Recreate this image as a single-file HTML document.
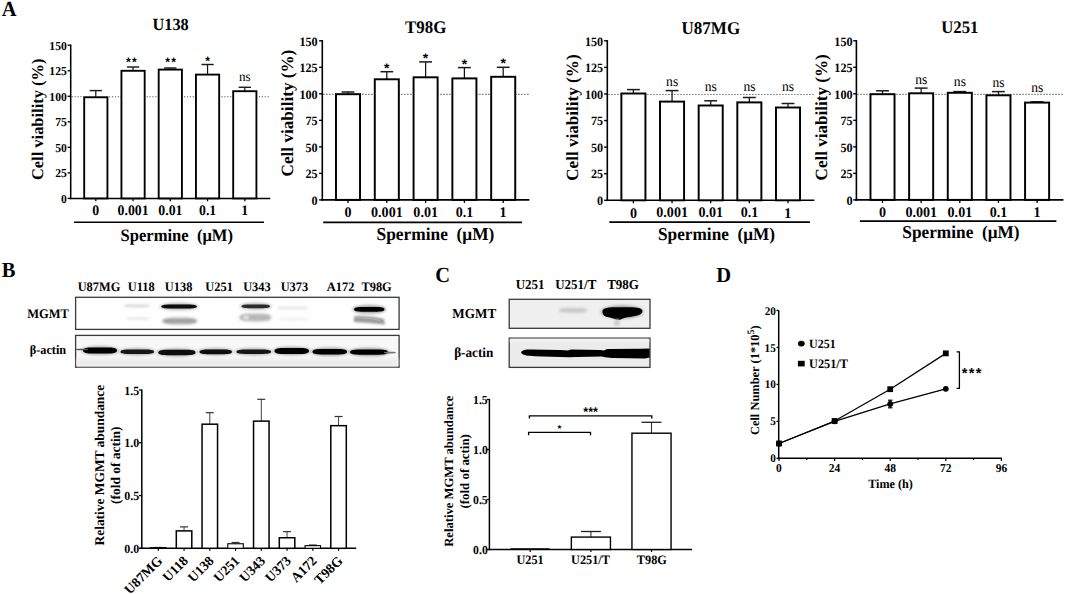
<!DOCTYPE html><html><head><meta charset="utf-8"><style>html,body{margin:0;padding:0;background:#fff;overflow:hidden}svg{display:block}text{font-family:"Liberation Serif",serif;font-weight:bold;fill:#000;white-space:pre;text-rendering:geometricPrecision}</style></head><body>
<svg width="1065" height="594" viewBox="0 0 1065 594">
<defs><filter id="b1" x="-20%" y="-100%" width="140%" height="300%"><feGaussianBlur stdDeviation="0.7"/></filter><filter id="b2" x="-20%" y="-100%" width="140%" height="300%"><feGaussianBlur stdDeviation="1.1"/></filter><filter id="b3" x="-30%" y="-150%" width="160%" height="400%"><feGaussianBlur stdDeviation="1.6"/></filter></defs>
<rect width="1065" height="594" fill="#fff"/>
<line x1="71.70" y1="96.77" x2="270.00" y2="96.77" stroke="#555" stroke-width="1.056" stroke-dasharray="1.15 1.73"/>
<line x1="70.70" y1="44.50" x2="70.70" y2="199.20" stroke="#000" stroke-width="1.536" />
<line x1="67.63" y1="198.40" x2="70.70" y2="198.40" stroke="#000" stroke-width="1.3439999999999999" />
<text x="0" y="0" transform="translate(61.02,202.98) scale(1,1.05)" font-size="11.65" >0</text>
<line x1="67.63" y1="172.87" x2="70.70" y2="172.87" stroke="#000" stroke-width="1.3439999999999999" />
<text x="0" y="0" transform="translate(55.17,177.45) scale(1,1.05)" font-size="11.65" >25</text>
<line x1="67.63" y1="147.33" x2="70.70" y2="147.33" stroke="#000" stroke-width="1.3439999999999999" />
<text x="0" y="0" transform="translate(55.19,151.92) scale(1,1.05)" font-size="11.65" >50</text>
<line x1="67.63" y1="121.80" x2="70.70" y2="121.80" stroke="#000" stroke-width="1.3439999999999999" />
<text x="0" y="0" transform="translate(55.17,126.38) scale(1,1.05)" font-size="11.65" >75</text>
<line x1="67.63" y1="96.27" x2="70.70" y2="96.27" stroke="#000" stroke-width="1.3439999999999999" />
<text x="0" y="0" transform="translate(49.37,100.85) scale(1,1.05)" font-size="11.65" >100</text>
<line x1="67.63" y1="70.73" x2="70.70" y2="70.73" stroke="#000" stroke-width="1.3439999999999999" />
<text x="0" y="0" transform="translate(49.34,75.32) scale(1,1.05)" font-size="11.65" >125</text>
<line x1="67.63" y1="45.20" x2="70.70" y2="45.20" stroke="#000" stroke-width="1.3439999999999999" />
<text x="0" y="0" transform="translate(49.37,49.78) scale(1,1.05)" font-size="11.65" >150</text>
<line x1="69.80" y1="198.40" x2="270.30" y2="198.40" stroke="#000" stroke-width="1.536" />
<line x1="95.80" y1="97.30" x2="95.80" y2="90.60" stroke="#111" stroke-width="1.2" />
<line x1="89.66" y1="90.60" x2="101.94" y2="90.60" stroke="#1a1a1a" stroke-width="1.44" />
<rect x="84.19" y="97.30" width="23.23" height="101.10" fill="#fff" stroke="#000" stroke-width="1.8719999999999999" />
<line x1="95.80" y1="198.40" x2="95.80" y2="201.28" stroke="#000" stroke-width="1.248" />
<line x1="133.05" y1="70.80" x2="133.05" y2="67.00" stroke="#111" stroke-width="1.2" />
<line x1="126.91" y1="67.00" x2="139.19" y2="67.00" stroke="#1a1a1a" stroke-width="1.44" />
<rect x="121.44" y="70.80" width="23.23" height="127.60" fill="#fff" stroke="#000" stroke-width="1.8719999999999999" />
<line x1="133.05" y1="198.40" x2="133.05" y2="201.28" stroke="#000" stroke-width="1.248" />
<text x="125.92" y="65.73" font-size="12.20" style="font-family:'Liberation Sans',sans-serif">*</text>
<text x="132.12" y="65.73" font-size="12.20" style="font-family:'Liberation Sans',sans-serif">*</text>
<line x1="170.30" y1="69.60" x2="170.30" y2="68.00" stroke="#111" stroke-width="1.2" />
<line x1="164.16" y1="68.00" x2="176.44" y2="68.00" stroke="#1a1a1a" stroke-width="1.44" />
<rect x="158.69" y="69.60" width="23.23" height="128.80" fill="#fff" stroke="#000" stroke-width="1.8719999999999999" />
<line x1="170.30" y1="198.40" x2="170.30" y2="201.28" stroke="#000" stroke-width="1.248" />
<text x="165.17" y="65.73" font-size="12.20" style="font-family:'Liberation Sans',sans-serif">*</text>
<text x="171.37" y="65.73" font-size="12.20" style="font-family:'Liberation Sans',sans-serif">*</text>
<line x1="207.55" y1="74.60" x2="207.55" y2="64.50" stroke="#111" stroke-width="1.2" />
<line x1="201.41" y1="64.50" x2="213.69" y2="64.50" stroke="#1a1a1a" stroke-width="1.44" />
<rect x="195.94" y="74.60" width="23.23" height="123.80" fill="#fff" stroke="#000" stroke-width="1.8719999999999999" />
<line x1="207.55" y1="198.40" x2="207.55" y2="201.28" stroke="#000" stroke-width="1.248" />
<text x="205.17" y="64.63" font-size="12.20" style="font-family:'Liberation Sans',sans-serif">*</text>
<line x1="244.80" y1="91.20" x2="244.80" y2="87.30" stroke="#111" stroke-width="1.2" />
<line x1="238.66" y1="87.30" x2="250.94" y2="87.30" stroke="#1a1a1a" stroke-width="1.44" />
<rect x="233.19" y="91.20" width="23.23" height="107.20" fill="#fff" stroke="#000" stroke-width="1.8719999999999999" />
<line x1="244.80" y1="198.40" x2="244.80" y2="201.28" stroke="#000" stroke-width="1.248" />
<text x="0" y="0" transform="translate(239.06,80.86) scale(1,1.05)" font-size="13.10" style="font-weight:normal" >ns</text>
<text x="0" y="0" transform="translate(92.34,215.05) scale(1,1.05)" font-size="13.84" >0</text>
<text x="0" y="0" transform="translate(117.58,215.00) scale(1,1.05)" font-size="13.84" >0.001</text>
<text x="0" y="0" transform="translate(158.29,215.00) scale(1,1.05)" font-size="13.84" >0.01</text>
<text x="0" y="0" transform="translate(199.00,215.00) scale(1,1.05)" font-size="13.84" >0.1</text>
<text x="0" y="0" transform="translate(241.15,215.20) scale(1,1.05)" font-size="13.84" >1</text>
<line x1="74.00" y1="222.30" x2="264.00" y2="222.30" stroke="#000" stroke-width="1.632" />
<text x="0" y="0" transform="translate(120.50,240.99) scale(1,1.05)" font-size="16.59" >Spermine  (μM)</text>
<text x="0" y="0" transform="translate(152.51,30.11) scale(1,1.05)" font-size="16.31" >U138</text>
<text x="0" y="0" font-size="16.47" transform="translate(42.53,180.09) rotate(-90)">Cell viability (%)</text>
<line x1="323.30" y1="94.33" x2="529.00" y2="94.33" stroke="#555" stroke-width="1.1" stroke-dasharray="1.20 1.80"/>
<line x1="322.30" y1="40.10" x2="322.30" y2="200.70" stroke="#000" stroke-width="1.6" />
<line x1="319.10" y1="199.90" x2="322.30" y2="199.90" stroke="#000" stroke-width="1.4" />
<text x="0" y="0" transform="translate(311.59,204.67) scale(1,1.05)" font-size="12.15" >0</text>
<line x1="319.10" y1="173.38" x2="322.30" y2="173.38" stroke="#000" stroke-width="1.4" />
<text x="0" y="0" transform="translate(305.49,178.16) scale(1,1.05)" font-size="12.15" >25</text>
<line x1="319.10" y1="146.87" x2="322.30" y2="146.87" stroke="#000" stroke-width="1.4" />
<text x="0" y="0" transform="translate(305.51,151.64) scale(1,1.05)" font-size="12.15" >50</text>
<line x1="319.10" y1="120.35" x2="322.30" y2="120.35" stroke="#000" stroke-width="1.4" />
<text x="0" y="0" transform="translate(305.49,125.12) scale(1,1.05)" font-size="12.15" >75</text>
<line x1="319.10" y1="93.83" x2="322.30" y2="93.83" stroke="#000" stroke-width="1.4" />
<text x="0" y="0" transform="translate(299.44,98.61) scale(1,1.05)" font-size="12.15" >100</text>
<line x1="319.10" y1="67.32" x2="322.30" y2="67.32" stroke="#000" stroke-width="1.4" />
<text x="0" y="0" transform="translate(299.41,72.09) scale(1,1.05)" font-size="12.15" >125</text>
<line x1="319.10" y1="40.80" x2="322.30" y2="40.80" stroke="#000" stroke-width="1.4" />
<text x="0" y="0" transform="translate(299.44,45.57) scale(1,1.05)" font-size="12.15" >150</text>
<line x1="321.50" y1="199.90" x2="529.40" y2="199.90" stroke="#000" stroke-width="1.6" />
<line x1="348.00" y1="94.20" x2="348.00" y2="92.00" stroke="#111" stroke-width="1.25" />
<line x1="341.60" y1="92.00" x2="354.40" y2="92.00" stroke="#1a1a1a" stroke-width="1.5" />
<rect x="335.98" y="94.20" width="24.05" height="105.70" fill="#fff" stroke="#000" stroke-width="1.95" />
<line x1="348.00" y1="199.90" x2="348.00" y2="202.90" stroke="#000" stroke-width="1.3" />
<line x1="386.80" y1="79.30" x2="386.80" y2="71.70" stroke="#111" stroke-width="1.25" />
<line x1="380.40" y1="71.70" x2="393.20" y2="71.70" stroke="#1a1a1a" stroke-width="1.5" />
<rect x="374.78" y="79.30" width="24.05" height="120.60" fill="#fff" stroke="#000" stroke-width="1.95" />
<line x1="386.80" y1="199.90" x2="386.80" y2="202.90" stroke="#000" stroke-width="1.3" />
<text x="384.07" y="72.73" font-size="14.00" style="font-family:'Liberation Sans',sans-serif">*</text>
<line x1="425.60" y1="77.30" x2="425.60" y2="61.90" stroke="#111" stroke-width="1.25" />
<line x1="419.20" y1="61.90" x2="432.00" y2="61.90" stroke="#1a1a1a" stroke-width="1.5" />
<rect x="413.58" y="77.30" width="24.05" height="122.60" fill="#fff" stroke="#000" stroke-width="1.95" />
<line x1="425.60" y1="199.90" x2="425.60" y2="202.90" stroke="#000" stroke-width="1.3" />
<text x="422.87" y="63.43" font-size="14.00" style="font-family:'Liberation Sans',sans-serif">*</text>
<line x1="464.40" y1="78.40" x2="464.40" y2="67.60" stroke="#111" stroke-width="1.25" />
<line x1="458.00" y1="67.60" x2="470.80" y2="67.60" stroke="#1a1a1a" stroke-width="1.5" />
<rect x="452.38" y="78.40" width="24.05" height="121.50" fill="#fff" stroke="#000" stroke-width="1.95" />
<line x1="464.40" y1="199.90" x2="464.40" y2="202.90" stroke="#000" stroke-width="1.3" />
<text x="461.67" y="68.94" font-size="14.00" style="font-family:'Liberation Sans',sans-serif">*</text>
<line x1="503.20" y1="76.80" x2="503.20" y2="67.30" stroke="#111" stroke-width="1.25" />
<line x1="496.80" y1="67.30" x2="509.60" y2="67.30" stroke="#1a1a1a" stroke-width="1.5" />
<rect x="491.18" y="76.80" width="24.05" height="123.10" fill="#fff" stroke="#000" stroke-width="1.95" />
<line x1="503.20" y1="199.90" x2="503.20" y2="202.90" stroke="#000" stroke-width="1.3" />
<text x="500.47" y="68.03" font-size="14.00" style="font-family:'Liberation Sans',sans-serif">*</text>
<text x="0" y="0" transform="translate(344.48,217.15) scale(1,1.05)" font-size="14.10" >0</text>
<text x="0" y="0" transform="translate(371.04,217.09) scale(1,1.05)" font-size="14.10" >0.001</text>
<text x="0" y="0" transform="translate(413.36,217.09) scale(1,1.05)" font-size="14.10" >0.01</text>
<text x="0" y="0" transform="translate(455.69,217.09) scale(1,1.05)" font-size="14.10" >0.1</text>
<text x="0" y="0" transform="translate(499.48,217.30) scale(1,1.05)" font-size="14.10" >1</text>
<line x1="323.20" y1="222.40" x2="522.00" y2="222.40" stroke="#000" stroke-width="1.7" />
<text x="0" y="0" transform="translate(376.56,239.85) scale(1,1.05)" font-size="17.35" >Spermine  (μM)</text>
<text x="0" y="0" transform="translate(405.03,33.32) scale(1,1.05)" font-size="16.90" >T98G</text>
<text x="0" y="0" font-size="17.16" transform="translate(292.81,176.42) rotate(-90)">Cell viability (%)</text>
<line x1="608.30" y1="94.47" x2="814.00" y2="94.47" stroke="#555" stroke-width="1.1" stroke-dasharray="1.20 1.80"/>
<line x1="607.30" y1="40.10" x2="607.30" y2="201.10" stroke="#000" stroke-width="1.6" />
<line x1="604.10" y1="200.30" x2="607.30" y2="200.30" stroke="#000" stroke-width="1.4" />
<text x="0" y="0" transform="translate(597.09,205.07) scale(1,1.05)" font-size="12.15" >0</text>
<line x1="604.10" y1="173.72" x2="607.30" y2="173.72" stroke="#000" stroke-width="1.4" />
<text x="0" y="0" transform="translate(590.99,178.49) scale(1,1.05)" font-size="12.15" >25</text>
<line x1="604.10" y1="147.13" x2="607.30" y2="147.13" stroke="#000" stroke-width="1.4" />
<text x="0" y="0" transform="translate(591.01,151.91) scale(1,1.05)" font-size="12.15" >50</text>
<line x1="604.10" y1="120.55" x2="607.30" y2="120.55" stroke="#000" stroke-width="1.4" />
<text x="0" y="0" transform="translate(590.99,125.32) scale(1,1.05)" font-size="12.15" >75</text>
<line x1="604.10" y1="93.97" x2="607.30" y2="93.97" stroke="#000" stroke-width="1.4" />
<text x="0" y="0" transform="translate(584.94,98.74) scale(1,1.05)" font-size="12.15" >100</text>
<line x1="604.10" y1="67.38" x2="607.30" y2="67.38" stroke="#000" stroke-width="1.4" />
<text x="0" y="0" transform="translate(584.91,72.16) scale(1,1.05)" font-size="12.15" >125</text>
<line x1="604.10" y1="40.80" x2="607.30" y2="40.80" stroke="#000" stroke-width="1.4" />
<text x="0" y="0" transform="translate(584.94,45.57) scale(1,1.05)" font-size="12.15" >150</text>
<line x1="606.60" y1="200.30" x2="814.40" y2="200.30" stroke="#000" stroke-width="1.6" />
<line x1="633.40" y1="93.50" x2="633.40" y2="89.60" stroke="#111" stroke-width="1.25" />
<line x1="627.00" y1="89.60" x2="639.80" y2="89.60" stroke="#1a1a1a" stroke-width="1.5" />
<rect x="621.38" y="93.50" width="24.05" height="106.80" fill="#fff" stroke="#000" stroke-width="1.95" />
<line x1="633.40" y1="200.30" x2="633.40" y2="203.30" stroke="#000" stroke-width="1.3" />
<line x1="672.05" y1="101.60" x2="672.05" y2="90.60" stroke="#111" stroke-width="1.25" />
<line x1="665.65" y1="90.60" x2="678.45" y2="90.60" stroke="#1a1a1a" stroke-width="1.5" />
<rect x="660.02" y="101.60" width="24.05" height="98.70" fill="#fff" stroke="#000" stroke-width="1.95" />
<line x1="672.05" y1="200.30" x2="672.05" y2="203.30" stroke="#000" stroke-width="1.3" />
<text x="0" y="0" transform="translate(666.09,85.86) scale(1,1.05)" font-size="13.60" style="font-weight:normal" >ns</text>
<line x1="710.70" y1="105.50" x2="710.70" y2="100.80" stroke="#111" stroke-width="1.25" />
<line x1="704.30" y1="100.80" x2="717.10" y2="100.80" stroke="#1a1a1a" stroke-width="1.5" />
<rect x="698.67" y="105.50" width="24.05" height="94.80" fill="#fff" stroke="#000" stroke-width="1.95" />
<line x1="710.70" y1="200.30" x2="710.70" y2="203.30" stroke="#000" stroke-width="1.3" />
<text x="0" y="0" transform="translate(704.74,91.36) scale(1,1.05)" font-size="13.60" style="font-weight:normal" >ns</text>
<line x1="749.35" y1="102.40" x2="749.35" y2="97.50" stroke="#111" stroke-width="1.25" />
<line x1="742.95" y1="97.50" x2="755.75" y2="97.50" stroke="#1a1a1a" stroke-width="1.5" />
<rect x="737.32" y="102.40" width="24.05" height="97.90" fill="#fff" stroke="#000" stroke-width="1.95" />
<line x1="749.35" y1="200.30" x2="749.35" y2="203.30" stroke="#000" stroke-width="1.3" />
<text x="0" y="0" transform="translate(743.39,91.36) scale(1,1.05)" font-size="13.60" style="font-weight:normal" >ns</text>
<line x1="788.00" y1="107.50" x2="788.00" y2="103.50" stroke="#111" stroke-width="1.25" />
<line x1="781.60" y1="103.50" x2="794.40" y2="103.50" stroke="#1a1a1a" stroke-width="1.5" />
<rect x="775.98" y="107.50" width="24.05" height="92.80" fill="#fff" stroke="#000" stroke-width="1.95" />
<line x1="788.00" y1="200.30" x2="788.00" y2="203.30" stroke="#000" stroke-width="1.3" />
<text x="0" y="0" transform="translate(782.04,91.36) scale(1,1.05)" font-size="13.60" style="font-weight:normal" >ns</text>
<text x="0" y="0" transform="translate(629.88,217.55) scale(1,1.05)" font-size="14.10" >0</text>
<text x="0" y="0" transform="translate(656.29,217.49) scale(1,1.05)" font-size="14.10" >0.001</text>
<text x="0" y="0" transform="translate(698.46,217.49) scale(1,1.05)" font-size="14.10" >0.01</text>
<text x="0" y="0" transform="translate(740.64,217.49) scale(1,1.05)" font-size="14.10" >0.1</text>
<text x="0" y="0" transform="translate(784.28,217.70) scale(1,1.05)" font-size="14.10" >1</text>
<line x1="609.30" y1="222.10" x2="809.90" y2="222.10" stroke="#000" stroke-width="1.7" />
<text x="0" y="0" transform="translate(657.97,239.77) scale(1,1.05)" font-size="17.25" >Spermine  (μM)</text>
<text x="0" y="0" transform="translate(681.49,33.72) scale(1,1.05)" font-size="17.04" >U87MG</text>
<text x="0" y="0" font-size="17.10" transform="translate(578.07,180.72) rotate(-90)">Cell viability (%)</text>
<line x1="857.40" y1="94.33" x2="1064.00" y2="94.33" stroke="#555" stroke-width="1.1" stroke-dasharray="1.20 1.80"/>
<line x1="856.40" y1="40.10" x2="856.40" y2="200.70" stroke="#000" stroke-width="1.6" />
<line x1="853.20" y1="199.90" x2="856.40" y2="199.90" stroke="#000" stroke-width="1.4" />
<text x="0" y="0" transform="translate(846.49,204.67) scale(1,1.05)" font-size="12.15" >0</text>
<line x1="853.20" y1="173.38" x2="856.40" y2="173.38" stroke="#000" stroke-width="1.4" />
<text x="0" y="0" transform="translate(840.39,178.16) scale(1,1.05)" font-size="12.15" >25</text>
<line x1="853.20" y1="146.87" x2="856.40" y2="146.87" stroke="#000" stroke-width="1.4" />
<text x="0" y="0" transform="translate(840.41,151.64) scale(1,1.05)" font-size="12.15" >50</text>
<line x1="853.20" y1="120.35" x2="856.40" y2="120.35" stroke="#000" stroke-width="1.4" />
<text x="0" y="0" transform="translate(840.39,125.12) scale(1,1.05)" font-size="12.15" >75</text>
<line x1="853.20" y1="93.83" x2="856.40" y2="93.83" stroke="#000" stroke-width="1.4" />
<text x="0" y="0" transform="translate(834.34,98.61) scale(1,1.05)" font-size="12.15" >100</text>
<line x1="853.20" y1="67.32" x2="856.40" y2="67.32" stroke="#000" stroke-width="1.4" />
<text x="0" y="0" transform="translate(834.31,72.09) scale(1,1.05)" font-size="12.15" >125</text>
<line x1="853.20" y1="40.80" x2="856.40" y2="40.80" stroke="#000" stroke-width="1.4" />
<text x="0" y="0" transform="translate(834.34,45.57) scale(1,1.05)" font-size="12.15" >150</text>
<line x1="855.20" y1="199.90" x2="1063.40" y2="199.90" stroke="#000" stroke-width="1.6" />
<line x1="882.50" y1="94.20" x2="882.50" y2="90.80" stroke="#111" stroke-width="1.25" />
<line x1="876.10" y1="90.80" x2="888.90" y2="90.80" stroke="#1a1a1a" stroke-width="1.5" />
<rect x="870.48" y="94.20" width="24.05" height="105.70" fill="#fff" stroke="#000" stroke-width="1.95" />
<line x1="882.50" y1="199.90" x2="882.50" y2="202.90" stroke="#000" stroke-width="1.3" />
<line x1="921.15" y1="93.30" x2="921.15" y2="88.10" stroke="#111" stroke-width="1.25" />
<line x1="914.75" y1="88.10" x2="927.55" y2="88.10" stroke="#1a1a1a" stroke-width="1.5" />
<rect x="909.12" y="93.30" width="24.05" height="106.60" fill="#fff" stroke="#000" stroke-width="1.95" />
<line x1="921.15" y1="199.90" x2="921.15" y2="202.90" stroke="#000" stroke-width="1.3" />
<text x="0" y="0" transform="translate(915.19,83.76) scale(1,1.05)" font-size="13.60" style="font-weight:normal" >ns</text>
<line x1="959.80" y1="92.80" x2="959.80" y2="91.60" stroke="#111" stroke-width="1.25" />
<line x1="953.40" y1="91.60" x2="966.20" y2="91.60" stroke="#1a1a1a" stroke-width="1.5" />
<rect x="947.77" y="92.80" width="24.05" height="107.10" fill="#fff" stroke="#000" stroke-width="1.95" />
<line x1="959.80" y1="199.90" x2="959.80" y2="202.90" stroke="#000" stroke-width="1.3" />
<text x="0" y="0" transform="translate(953.84,85.86) scale(1,1.05)" font-size="13.60" style="font-weight:normal" >ns</text>
<line x1="998.45" y1="95.30" x2="998.45" y2="91.60" stroke="#111" stroke-width="1.25" />
<line x1="992.05" y1="91.60" x2="1004.85" y2="91.60" stroke="#1a1a1a" stroke-width="1.5" />
<rect x="986.43" y="95.30" width="24.05" height="104.60" fill="#fff" stroke="#000" stroke-width="1.95" />
<line x1="998.45" y1="199.90" x2="998.45" y2="202.90" stroke="#000" stroke-width="1.3" />
<text x="0" y="0" transform="translate(992.49,87.26) scale(1,1.05)" font-size="13.60" style="font-weight:normal" >ns</text>
<line x1="1037.10" y1="102.60" x2="1037.10" y2="101.80" stroke="#111" stroke-width="1.25" />
<line x1="1030.70" y1="101.80" x2="1043.50" y2="101.80" stroke="#1a1a1a" stroke-width="1.5" />
<rect x="1025.07" y="102.60" width="24.05" height="97.30" fill="#fff" stroke="#000" stroke-width="1.95" />
<line x1="1037.10" y1="199.90" x2="1037.10" y2="202.90" stroke="#000" stroke-width="1.3" />
<text x="0" y="0" transform="translate(1031.14,92.16) scale(1,1.05)" font-size="13.60" style="font-weight:normal" >ns</text>
<text x="0" y="0" transform="translate(878.98,217.15) scale(1,1.05)" font-size="14.10" >0</text>
<text x="0" y="0" transform="translate(905.39,217.09) scale(1,1.05)" font-size="14.10" >0.001</text>
<text x="0" y="0" transform="translate(947.56,217.09) scale(1,1.05)" font-size="14.10" >0.01</text>
<text x="0" y="0" transform="translate(989.74,217.09) scale(1,1.05)" font-size="14.10" >0.1</text>
<text x="0" y="0" transform="translate(1033.38,217.30) scale(1,1.05)" font-size="14.10" >1</text>
<line x1="859.90" y1="221.10" x2="1056.40" y2="221.10" stroke="#000" stroke-width="1.7" />
<text x="0" y="0" transform="translate(902.27,238.10) scale(1,1.05)" font-size="17.29" >Spermine  (μM)</text>
<text x="0" y="0" transform="translate(941.20,33.16) scale(1,1.05)" font-size="16.78" >U251</text>
<text x="0" y="0" font-size="17.09" transform="translate(827.26,180.42) rotate(-90)">Cell viability (%)</text>
<text x="0" y="0" transform="translate(77.67,290.97) scale(1,1.05)" font-size="12.40" >U87MG</text>
<text x="0" y="0" transform="translate(127.73,290.97) scale(1,1.05)" font-size="12.40" >U118</text>
<text x="0" y="0" transform="translate(164.79,290.97) scale(1,1.05)" font-size="12.40" >U138</text>
<text x="0" y="0" transform="translate(205.35,290.97) scale(1,1.05)" font-size="12.40" >U251</text>
<text x="0" y="0" transform="translate(243.14,290.97) scale(1,1.05)" font-size="12.40" >U343</text>
<text x="0" y="0" transform="translate(280.64,290.97) scale(1,1.05)" font-size="12.40" >U373</text>
<text x="0" y="0" transform="translate(326.82,291.10) scale(1,1.05)" font-size="12.40" >A172</text>
<text x="0" y="0" transform="translate(361.46,290.97) scale(1,1.05)" font-size="12.40" >T98G</text>
<text x="0" y="0" transform="translate(27.17,318.47) scale(1,1.05)" font-size="12.52" >MGMT</text>
<text x="0" y="0" transform="translate(29.71,353.90) scale(1,1.05)" font-size="12.28" >β-actin</text>
<rect x="75.60" y="297.30" width="323.50" height="32.10" fill="#fefefe" stroke="#3a3a3a" stroke-width="1.3" />
<rect x="75.60" y="335.40" width="323.50" height="31.80" fill="#f8f8f8" stroke="#3a3a3a" stroke-width="1.3" />
<rect x="77" y="358.5" width="321" height="7.5" fill="#ececec" filter="url(#b3)"/>
<path d="M124.00,305.80 C124.00,304.46 127.12,304.20 131.80,304.20 L142.20,304.20 C146.88,304.20 150.00,304.46 150.00,305.80 C150.00,307.14 146.88,307.40 142.20,307.40 L131.80,307.40 C127.12,307.40 124.00,307.14 124.00,305.80 Z" fill="#dcdcdc" filter="url(#b2)" />
<path d="M126.00,318.60 C126.00,317.34 128.76,317.10 132.90,317.10 L142.10,317.10 C146.24,317.10 149.00,317.34 149.00,318.60 C149.00,319.86 146.24,320.10 142.10,320.10 L132.90,320.10 C128.76,320.10 126.00,319.86 126.00,318.60 Z" fill="#ececec" filter="url(#b2)" />
<ellipse cx="179.05" cy="306.60" rx="19.25" ry="3.50" fill="#b0b0b0" filter="url(#b3)"/>
<path d="M161.30,306.60 C161.30,304.92 165.56,304.60 171.95,304.60 L186.15,304.60 C192.54,304.60 196.80,304.92 196.80,306.60 C196.80,308.28 192.54,308.60 186.15,308.60 L171.95,308.60 C165.56,308.60 161.30,308.28 161.30,306.60 Z" fill="#080808" filter="url(#b1)" />
<ellipse cx="179.75" cy="321.00" rx="18.25" ry="4.00" fill="#d8d8d8" filter="url(#b3)"/>
<path d="M163.00,321.00 C163.00,318.82 167.02,318.40 173.05,318.40 L186.45,318.40 C192.48,318.40 196.50,318.82 196.50,321.00 C196.50,323.18 192.48,323.60 186.45,323.60 L173.05,323.60 C167.02,323.60 163.00,323.18 163.00,321.00 Z" fill="#a2a2a2" filter="url(#b2)" />
<ellipse cx="255.75" cy="306.30" rx="15.75" ry="3.50" fill="#b8b8b8" filter="url(#b3)"/>
<path d="M241.50,306.30 C241.50,304.70 244.92,304.40 250.05,304.40 L261.45,304.40 C266.58,304.40 270.00,304.70 270.00,306.30 C270.00,307.90 266.58,308.20 261.45,308.20 L250.05,308.20 C244.92,308.20 241.50,307.90 241.50,306.30 Z" fill="#2a2a2a" filter="url(#b1)" />
<ellipse cx="255.25" cy="317.50" rx="16.75" ry="4.50" fill="#e0e0e0" filter="url(#b3)"/>
<path d="M240.00,317.50 C240.00,314.77 243.66,314.25 249.15,314.25 L261.35,314.25 C266.84,314.25 270.50,314.77 270.50,317.50 C270.50,320.23 266.84,320.75 261.35,320.75 L249.15,320.75 C243.66,320.75 240.00,320.23 240.00,317.50 Z" fill="#b8b8b8" filter="url(#b2)" />
<ellipse cx="246" cy="317.5" rx="3" ry="2" fill="#e6e6e6" filter="url(#b2)"/>
<path d="M277.00,308.00 C277.00,306.66 280.72,306.40 286.30,306.40 L298.70,306.40 C304.28,306.40 308.00,306.66 308.00,308.00 C308.00,309.34 304.28,309.60 298.70,309.60 L286.30,309.60 C280.72,309.60 277.00,309.34 277.00,308.00 Z" fill="#e8e8e8" filter="url(#b2)" />
<path d="M278.00,319.00 C278.00,317.74 281.60,317.50 287.00,317.50 L299.00,317.50 C304.40,317.50 308.00,317.74 308.00,319.00 C308.00,320.26 304.40,320.50 299.00,320.50 L287.00,320.50 C281.60,320.50 278.00,320.26 278.00,319.00 Z" fill="#f2f2f2" filter="url(#b2)" />
<ellipse cx="369.25" cy="309.30" rx="16.75" ry="4.00" fill="#999" filter="url(#b3)"/>
<path d="M354.00,309.30 C354.00,307.28 357.66,306.90 363.15,306.90 L375.35,306.90 C380.84,306.90 384.50,307.28 384.50,309.30 C384.50,311.32 380.84,311.70 375.35,311.70 L363.15,311.70 C357.66,311.70 354.00,311.32 354.00,309.30 Z" fill="#000" filter="url(#b1)" />
<path d="M354,316.5 C360,315.5 375,316.5 384,319 L385,324.5 C376,323.5 362,322.5 354,322 Z" fill="#9c9c9c" filter="url(#b2)"/>
<path d="M356,318 C362,317.5 372,318.5 380,320.5" stroke="#bdbdbd" stroke-width="0.8" fill="none" filter="url(#b1)"/>
<ellipse cx="100.00" cy="350.60" rx="18.50" ry="4.00" fill="#999" filter="url(#b3)"/>
<path d="M83.00,350.60 C83.00,348.08 87.08,347.60 93.20,347.60 L106.80,347.60 C112.92,347.60 117.00,348.08 117.00,350.60 C117.00,353.12 112.92,353.60 106.80,353.60 L93.20,353.60 C87.08,353.60 83.00,353.12 83.00,350.60 Z" fill="#000" filter="url(#b1)" />
<path d="M76.00,349.60 C76.00,348.97 77.44,348.85 79.60,348.85 L84.40,348.85 C86.56,348.85 88.00,348.97 88.00,349.60 C88.00,350.23 86.56,350.35 84.40,350.35 L79.60,350.35 C77.44,350.35 76.00,350.23 76.00,349.60 Z" fill="#555" filter="url(#b1)" />
<ellipse cx="137.25" cy="351.80" rx="18.25" ry="3.50" fill="#aaa" filter="url(#b3)"/>
<path d="M120.50,351.80 C120.50,349.87 124.52,349.50 130.55,349.50 L143.95,349.50 C149.98,349.50 154.00,349.87 154.00,351.80 C154.00,353.73 149.98,354.10 143.95,354.10 L130.55,354.10 C124.52,354.10 120.50,353.73 120.50,351.80 Z" fill="#151515" filter="url(#b1)" />
<ellipse cx="176.90" cy="352.50" rx="20.10" ry="4.00" fill="#aaa" filter="url(#b3)"/>
<path d="M158.30,352.50 C158.30,350.23 162.76,349.80 169.46,349.80 L184.34,349.80 C191.04,349.80 195.50,350.23 195.50,352.50 C195.50,354.77 191.04,355.20 184.34,355.20 L169.46,355.20 C162.76,355.20 158.30,354.77 158.30,352.50 Z" fill="#080808" filter="url(#b1)" />
<ellipse cx="215.75" cy="351.80" rx="17.75" ry="3.50" fill="#aaa" filter="url(#b3)"/>
<path d="M199.50,351.80 C199.50,349.78 203.40,349.40 209.25,349.40 L222.25,349.40 C228.10,349.40 232.00,349.78 232.00,351.80 C232.00,353.82 228.10,354.20 222.25,354.20 L209.25,354.20 C203.40,354.20 199.50,353.82 199.50,351.80 Z" fill="#0d0d0d" filter="url(#b1)" />
<ellipse cx="253.75" cy="351.80" rx="18.75" ry="3.50" fill="#aaa" filter="url(#b3)"/>
<path d="M236.50,351.80 C236.50,349.95 240.64,349.60 246.85,349.60 L260.65,349.60 C266.86,349.60 271.00,349.95 271.00,351.80 C271.00,353.65 266.86,354.00 260.65,354.00 L246.85,354.00 C240.64,354.00 236.50,353.65 236.50,351.80 Z" fill="#181818" filter="url(#b1)" />
<ellipse cx="291.75" cy="351.00" rx="18.75" ry="4.00" fill="#999" filter="url(#b3)"/>
<path d="M274.50,351.00 C274.50,348.48 278.64,348.00 284.85,348.00 L298.65,348.00 C304.86,348.00 309.00,348.48 309.00,351.00 C309.00,353.52 304.86,354.00 298.65,354.00 L284.85,354.00 C278.64,354.00 274.50,353.52 274.50,351.00 Z" fill="#050505" filter="url(#b1)" />
<ellipse cx="329.75" cy="351.80" rx="18.75" ry="4.00" fill="#999" filter="url(#b3)"/>
<path d="M312.50,351.80 C312.50,349.53 316.64,349.10 322.85,349.10 L336.65,349.10 C342.86,349.10 347.00,349.53 347.00,351.80 C347.00,354.07 342.86,354.50 336.65,354.50 L322.85,354.50 C316.64,354.50 312.50,354.07 312.50,351.80 Z" fill="#050505" filter="url(#b1)" />
<ellipse cx="369.00" cy="352.10" rx="20.50" ry="4.00" fill="#999" filter="url(#b3)"/>
<path d="M350.00,352.10 C350.00,349.83 354.56,349.40 361.40,349.40 L376.60,349.40 C383.44,349.40 388.00,349.83 388.00,352.10 C388.00,354.37 383.44,354.80 376.60,354.80 L361.40,354.80 C354.56,354.80 350.00,354.37 350.00,352.10 Z" fill="#000" filter="url(#b1)" />
<path d="M384.00,352.60 C384.00,351.93 385.44,351.80 387.60,351.80 L392.40,351.80 C394.56,351.80 396.00,351.93 396.00,352.60 C396.00,353.27 394.56,353.40 392.40,353.40 L387.60,353.40 C385.44,353.40 384.00,353.27 384.00,352.60 Z" fill="#777" filter="url(#b1)" />
<text x="0" y="0" transform="translate(515.64,289.36) scale(1,1.05)" font-size="13.00" >U251</text>
<text x="0" y="0" transform="translate(555.21,289.36) scale(1,1.05)" font-size="13.00" >U251/T</text>
<text x="0" y="0" transform="translate(607.13,289.36) scale(1,1.05)" font-size="13.00" >T98G</text>
<text x="0" y="0" transform="translate(452.36,317.96) scale(1,1.05)" font-size="13.15" >MGMT</text>
<text x="0" y="0" transform="translate(454.16,357.16) scale(1,1.05)" font-size="13.21" >β-actin</text>
<rect x="509.20" y="299.30" width="140.80" height="29.00" fill="#efefef" stroke="#3a3a3a" stroke-width="1.3" />
<rect x="509.20" y="338.10" width="140.80" height="29.30" fill="#ebebeb" stroke="#3a3a3a" stroke-width="1.3" />
<rect x="510" y="339" width="139" height="3" fill="#f3f3f3" filter="url(#b2)"/>
<path d="M559.00,310.30 C559.00,308.54 562.36,308.20 567.40,308.20 L578.60,308.20 C583.64,308.20 587.00,308.54 587.00,310.30 C587.00,312.06 583.64,312.40 578.60,312.40 L567.40,312.40 C562.36,312.40 559.00,312.06 559.00,310.30 Z" fill="#c2c2c2" filter="url(#b3)" />
<ellipse cx="622" cy="312" rx="21" ry="6.5" fill="#999" filter="url(#b3)"/>
<path d="M602.5,311.5 C602.5,307.5 608,307.2 620,307.2 C632,307.2 642.5,306.8 642.5,311 C642.5,315.5 634,316.5 627,317.2 C623,317.8 621,320 618.5,320 C615.5,320 613,318 609,317.3 C604,316.8 602.5,314.5 602.5,311.5 Z" fill="#000" filter="url(#b1)"/>
<ellipse cx="617" cy="322.5" rx="3" ry="3.5" fill="#cfcfcf" filter="url(#b2)"/>
<path d="M521,352.5 C522,349.8 526,349.4 532,349.5 L560,350 L568,350.6 L571,349.6 L600,349.9 L604,350.6 L607,349.1 L640,348.7 L649.6,348.5 L649.6,357.6 L645,358.4 L612,358 L605,357.2 L602,356.4 L576,356.9 L570,357.3 L560,357 L535,356.2 C527,356 522.5,355.2 521,352.5 Z" fill="#000" filter="url(#b1)"/>
<line x1="141.80" y1="389.40" x2="141.80" y2="549.10" stroke="#000" stroke-width="1.5" />
<line x1="139.30" y1="548.30" x2="356.20" y2="548.30" stroke="#000" stroke-width="1.5" />
<line x1="139.00" y1="548.30" x2="141.80" y2="548.30" stroke="#000" stroke-width="1.3" />
<text x="0" y="0" transform="translate(124.16,553.02) scale(1,1.05)" font-size="12.00" >0.0</text>
<line x1="139.00" y1="495.53" x2="141.80" y2="495.53" stroke="#000" stroke-width="1.3" />
<text x="0" y="0" transform="translate(124.13,500.26) scale(1,1.05)" font-size="12.00" >0.5</text>
<line x1="139.00" y1="442.77" x2="141.80" y2="442.77" stroke="#000" stroke-width="1.3" />
<text x="0" y="0" transform="translate(124.16,447.49) scale(1,1.05)" font-size="12.00" >1.0</text>
<line x1="139.00" y1="390.00" x2="141.80" y2="390.00" stroke="#000" stroke-width="1.3" />
<text x="0" y="0" transform="translate(124.13,394.72) scale(1,1.05)" font-size="12.00" >1.5</text>
<line x1="158.30" y1="547.77" x2="158.30" y2="547.46" stroke="#444" stroke-width="1.0" />
<line x1="154.30" y1="547.46" x2="162.30" y2="547.46" stroke="#333" stroke-width="1.2" />
<line x1="149.80" y1="547.77" x2="166.80" y2="547.77" stroke="#000" stroke-width="1.3" />
<line x1="158.30" y1="548.30" x2="158.30" y2="550.80" stroke="#000" stroke-width="1.2" />
<text x="0" y="0" font-size="13.7" text-anchor="end" transform="translate(163.20,561.60) rotate(-45)">U87MG</text>
<line x1="184.05" y1="530.89" x2="184.05" y2="526.88" stroke="#444" stroke-width="1.0" />
<line x1="180.05" y1="526.88" x2="188.05" y2="526.88" stroke="#333" stroke-width="1.2" />
<rect x="176.30" y="530.89" width="15.50" height="17.41" fill="#fff" stroke="#000" stroke-width="1.5" />
<line x1="184.05" y1="548.30" x2="184.05" y2="550.80" stroke="#000" stroke-width="1.2" />
<text x="0" y="0" font-size="13.7" text-anchor="end" transform="translate(188.95,561.60) rotate(-45)">U118</text>
<line x1="209.80" y1="424.19" x2="209.80" y2="412.69" stroke="#444" stroke-width="1.0" />
<line x1="205.80" y1="412.69" x2="213.80" y2="412.69" stroke="#333" stroke-width="1.2" />
<rect x="202.05" y="424.19" width="15.50" height="124.11" fill="#fff" stroke="#000" stroke-width="1.5" />
<line x1="209.80" y1="548.30" x2="209.80" y2="550.80" stroke="#000" stroke-width="1.2" />
<text x="0" y="0" font-size="13.7" text-anchor="end" transform="translate(214.70,561.60) rotate(-45)">U138</text>
<line x1="235.55" y1="543.76" x2="235.55" y2="542.50" stroke="#444" stroke-width="1.0" />
<line x1="231.55" y1="542.50" x2="239.55" y2="542.50" stroke="#333" stroke-width="1.2" />
<rect x="227.80" y="543.76" width="15.50" height="4.54" fill="#fff" stroke="#000" stroke-width="1.1" />
<line x1="235.55" y1="548.30" x2="235.55" y2="550.80" stroke="#000" stroke-width="1.2" />
<text x="0" y="0" font-size="13.7" text-anchor="end" transform="translate(240.45,561.60) rotate(-45)">U251</text>
<line x1="261.30" y1="421.13" x2="261.30" y2="399.29" stroke="#444" stroke-width="1.0" />
<line x1="257.30" y1="399.29" x2="265.30" y2="399.29" stroke="#333" stroke-width="1.2" />
<rect x="253.55" y="421.13" width="15.50" height="127.17" fill="#fff" stroke="#000" stroke-width="1.5" />
<line x1="261.30" y1="548.30" x2="261.30" y2="550.80" stroke="#000" stroke-width="1.2" />
<text x="0" y="0" font-size="13.7" text-anchor="end" transform="translate(266.20,561.60) rotate(-45)">U343</text>
<line x1="287.05" y1="537.75" x2="287.05" y2="531.63" stroke="#444" stroke-width="1.0" />
<line x1="283.05" y1="531.63" x2="291.05" y2="531.63" stroke="#333" stroke-width="1.2" />
<rect x="279.30" y="537.75" width="15.50" height="10.55" fill="#fff" stroke="#000" stroke-width="1.5" />
<line x1="287.05" y1="548.30" x2="287.05" y2="550.80" stroke="#000" stroke-width="1.2" />
<text x="0" y="0" font-size="13.7" text-anchor="end" transform="translate(291.95,561.60) rotate(-45)">U373</text>
<line x1="312.80" y1="545.66" x2="312.80" y2="545.03" stroke="#444" stroke-width="1.0" />
<line x1="308.80" y1="545.03" x2="316.80" y2="545.03" stroke="#333" stroke-width="1.2" />
<rect x="305.05" y="545.66" width="15.50" height="2.64" fill="#fff" stroke="#000" stroke-width="1.1" />
<line x1="312.80" y1="548.30" x2="312.80" y2="550.80" stroke="#000" stroke-width="1.2" />
<text x="0" y="0" font-size="13.7" text-anchor="end" transform="translate(317.70,561.60) rotate(-45)">A172</text>
<line x1="338.55" y1="425.67" x2="338.55" y2="416.49" stroke="#444" stroke-width="1.0" />
<line x1="334.55" y1="416.49" x2="342.55" y2="416.49" stroke="#333" stroke-width="1.2" />
<rect x="330.80" y="425.67" width="15.50" height="122.63" fill="#fff" stroke="#000" stroke-width="1.5" />
<line x1="338.55" y1="548.30" x2="338.55" y2="550.80" stroke="#000" stroke-width="1.2" />
<text x="0" y="0" font-size="13.7" text-anchor="end" transform="translate(343.45,561.60) rotate(-45)">T98G</text>
<text x="0" y="0" font-size="13.42" transform="translate(103.61,545.44) rotate(-90)">Relative MGMT abundance</text>
<text x="0" y="0" font-size="13.43" transform="translate(119.75,503.99) rotate(-90)">(fold of actin)</text>
<line x1="489.40" y1="398.90" x2="489.40" y2="550.30" stroke="#000" stroke-width="1.5" />
<line x1="488.70" y1="549.50" x2="692.00" y2="549.50" stroke="#000" stroke-width="1.5" />
<line x1="486.60" y1="549.50" x2="489.40" y2="549.50" stroke="#000" stroke-width="1.3" />
<text x="0" y="0" transform="translate(473.12,554.33) scale(1,1.05)" font-size="11.70" >0.0</text>
<line x1="486.60" y1="499.50" x2="489.40" y2="499.50" stroke="#000" stroke-width="1.3" />
<text x="0" y="0" transform="translate(473.10,504.33) scale(1,1.05)" font-size="11.70" >0.5</text>
<line x1="486.60" y1="449.50" x2="489.40" y2="449.50" stroke="#000" stroke-width="1.3" />
<text x="0" y="0" transform="translate(473.12,454.33) scale(1,1.05)" font-size="11.70" >1.0</text>
<line x1="486.60" y1="399.50" x2="489.40" y2="399.50" stroke="#000" stroke-width="1.3" />
<text x="0" y="0" transform="translate(473.10,404.33) scale(1,1.05)" font-size="11.70" >1.5</text>
<line x1="510.70" y1="548.80" x2="549.70" y2="548.80" stroke="#000" stroke-width="1.2" />
<line x1="530.20" y1="549.50" x2="530.20" y2="552.00" stroke="#000" stroke-width="1.2" />
<text x="0" y="0" transform="translate(516.46,564.17) scale(1,1.05)" font-size="12.25" >U251</text>
<line x1="590.90" y1="537.10" x2="590.90" y2="531.50" stroke="#333" stroke-width="1.1" />
<line x1="580.90" y1="531.50" x2="600.90" y2="531.50" stroke="#222" stroke-width="1.3" />
<rect x="571.35" y="537.10" width="39.10" height="12.40" fill="#fff" stroke="#000" stroke-width="1.4" />
<line x1="590.90" y1="549.50" x2="590.90" y2="552.00" stroke="#000" stroke-width="1.2" />
<text x="0" y="0" transform="translate(571.10,564.17) scale(1,1.05)" font-size="12.25" >U251/T</text>
<line x1="651.50" y1="433.20" x2="651.50" y2="422.30" stroke="#333" stroke-width="1.1" />
<line x1="641.50" y1="422.30" x2="661.50" y2="422.30" stroke="#222" stroke-width="1.3" />
<rect x="631.95" y="433.20" width="39.10" height="116.30" fill="#fff" stroke="#000" stroke-width="1.4" />
<line x1="651.50" y1="549.50" x2="651.50" y2="552.00" stroke="#000" stroke-width="1.2" />
<text x="0" y="0" transform="translate(636.84,564.17) scale(1,1.05)" font-size="12.25" >T98G</text>
<path d="M529.4,418.6 L529.4,415.8 L651.8,415.8 L651.8,418.6" fill="none" stroke="#000" stroke-width="1.3"/>
<path d="M528.6,435.3 L528.6,432.4 L590.5,432.4 L590.5,435.3" fill="none" stroke="#000" stroke-width="1.3"/>
<text x="583.24" y="416.43" font-size="12.60" style="font-family:'Liberation Sans',sans-serif">*</text>
<text x="588.14" y="416.43" font-size="12.60" style="font-family:'Liberation Sans',sans-serif">*</text>
<text x="593.04" y="416.43" font-size="12.60" style="font-family:'Liberation Sans',sans-serif">*</text>
<text x="557.55" y="431.72" font-size="10.00" style="font-family:'Liberation Sans',sans-serif">*</text>
<text x="0" y="0" font-size="12.63" transform="translate(453.17,546.83) rotate(-90)">Relative MGMT abundance</text>
<text x="0" y="0" font-size="12.86" transform="translate(469.36,508.47) rotate(-90)">(fold of actin)</text>
<line x1="778.70" y1="310.10" x2="778.70" y2="459.10" stroke="#000" stroke-width="1.5" />
<line x1="778.00" y1="458.30" x2="1001.90" y2="458.30" stroke="#000" stroke-width="1.5" />
<line x1="776.50" y1="458.30" x2="778.70" y2="458.30" stroke="#000" stroke-width="1.3" />
<text x="0" y="0" transform="translate(770.23,462.38) scale(1,1.05)" font-size="11.20" >0</text>
<line x1="776.50" y1="421.35" x2="778.70" y2="421.35" stroke="#000" stroke-width="1.3" />
<text x="0" y="0" transform="translate(770.20,425.43) scale(1,1.05)" font-size="11.20" >5</text>
<line x1="776.50" y1="384.40" x2="778.70" y2="384.40" stroke="#000" stroke-width="1.3" />
<text x="0" y="0" transform="translate(764.63,388.48) scale(1,1.05)" font-size="11.20" >10</text>
<line x1="776.50" y1="347.45" x2="778.70" y2="347.45" stroke="#000" stroke-width="1.3" />
<text x="0" y="0" transform="translate(764.60,351.53) scale(1,1.05)" font-size="11.20" >15</text>
<line x1="776.50" y1="310.50" x2="778.70" y2="310.50" stroke="#000" stroke-width="1.3" />
<text x="0" y="0" transform="translate(764.63,314.58) scale(1,1.05)" font-size="11.20" >20</text>
<line x1="779.00" y1="458.30" x2="779.00" y2="461.10" stroke="#000" stroke-width="1.2" />
<text x="0" y="0" transform="translate(776.12,472.08) scale(1,1.05)" font-size="11.50" >0</text>
<line x1="806.80" y1="458.30" x2="806.80" y2="460.10" stroke="#000" stroke-width="1.2" />
<line x1="834.60" y1="458.30" x2="834.60" y2="461.10" stroke="#000" stroke-width="1.2" />
<text x="0" y="0" transform="translate(828.71,472.20) scale(1,1.05)" font-size="11.50" >24</text>
<line x1="862.40" y1="458.30" x2="862.40" y2="460.10" stroke="#000" stroke-width="1.2" />
<line x1="890.20" y1="458.30" x2="890.20" y2="461.10" stroke="#000" stroke-width="1.2" />
<text x="0" y="0" transform="translate(884.57,472.08) scale(1,1.05)" font-size="11.50" >48</text>
<line x1="918.00" y1="458.30" x2="918.00" y2="460.10" stroke="#000" stroke-width="1.2" />
<line x1="945.80" y1="458.30" x2="945.80" y2="461.10" stroke="#000" stroke-width="1.2" />
<text x="0" y="0" transform="translate(939.96,472.20) scale(1,1.05)" font-size="11.50" >72</text>
<line x1="973.60" y1="458.30" x2="973.60" y2="460.10" stroke="#000" stroke-width="1.2" />
<line x1="1001.40" y1="458.30" x2="1001.40" y2="461.10" stroke="#000" stroke-width="1.2" />
<text x="0" y="0" transform="translate(995.66,472.08) scale(1,1.05)" font-size="11.50" >96</text>
<text x="0" y="0" transform="translate(868.21,488.05) scale(1,1.05)" font-size="12.14" >Time (h)</text>
<polyline points="779.00,443.52 834.60,421.35 890.20,403.98 945.80,388.83" fill="none" stroke="#000" stroke-width="1.3"/>
<polyline points="779.00,443.52 834.60,420.98 890.20,389.20 945.80,353.36" fill="none" stroke="#000" stroke-width="1.3"/>
<line x1="890.20" y1="400.20" x2="890.20" y2="407.80" stroke="#000" stroke-width="1.2" />
<line x1="888.00" y1="400.20" x2="892.40" y2="400.20" stroke="#000" stroke-width="1.2" />
<line x1="888.00" y1="407.80" x2="892.40" y2="407.80" stroke="#000" stroke-width="1.2" />
<circle cx="779.00" cy="443.52" r="2.9" fill="#000"/>
<circle cx="834.60" cy="421.35" r="2.9" fill="#000"/>
<circle cx="890.20" cy="403.98" r="2.9" fill="#000"/>
<circle cx="945.80" cy="388.83" r="2.9" fill="#000"/>
<rect x="776.10" y="440.62" width="5.8" height="5.8" fill="#000"/>
<rect x="831.70" y="418.08" width="5.8" height="5.8" fill="#000"/>
<rect x="887.30" y="386.30" width="5.8" height="5.8" fill="#000"/>
<rect x="942.90" y="350.46" width="5.8" height="5.8" fill="#000"/>
<ellipse cx="801.3" cy="343.6" rx="3.4" ry="2.9" fill="#000"/>
<rect x="797.9" y="360.8" width="6.8" height="5.6" fill="#000"/>
<text x="0" y="0" transform="translate(809.11,347.67) scale(1,1.05)" font-size="12.02" >U251</text>
<text x="0" y="0" transform="translate(809.11,367.77) scale(1,1.05)" font-size="12.28" >U251/T</text>
<path d="M956.6,351.9 L959.4,351.9 L959.4,388.3 L956.6,388.3" fill="none" stroke="#000" stroke-width="1.3"/>
<text x="961.87" y="378.39" font-size="14.50" style="font-family:'Liberation Sans',sans-serif">*</text>
<text x="968.77" y="378.39" font-size="14.50" style="font-family:'Liberation Sans',sans-serif">*</text>
<text x="975.67" y="378.39" font-size="14.50" style="font-family:'Liberation Sans',sans-serif">*</text>
<text x="0" y="0" font-size="12.45" transform="translate(758.64,435.10) rotate(-90)">Cell Number (1*10<tspan font-size="9.96" dy="-4.48">5</tspan><tspan dy="4.48">)</tspan></text>
<text x="0" y="0" transform="translate(1.69,16.21) scale(1,1.05)" font-size="20.50" >A</text>
<text x="0" y="0" transform="translate(1.67,277.48) scale(1,1.05)" font-size="20.50" >B</text>
<text x="0" y="0" transform="translate(435.32,282.15) scale(1,1.05)" font-size="20.50" >C</text>
<text x="0" y="0" transform="translate(716.13,282.18) scale(1,1.05)" font-size="20.50" >D</text>
</svg></body></html>
